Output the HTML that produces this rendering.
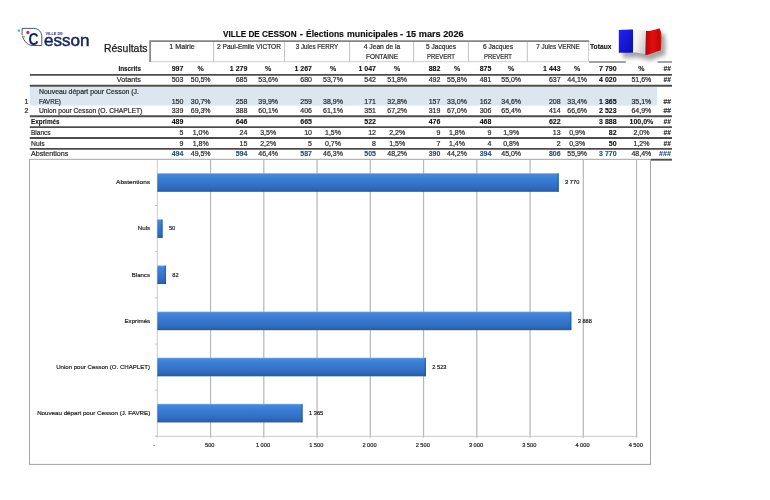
<!DOCTYPE html>
<html lang="fr"><head><meta charset="utf-8"><title>VILLE DE CESSON - Élections municipales - 15 mars 2026</title>
<style>
html,body{margin:0;padding:0;background:#fff;}
body{width:770px;height:500px;position:relative;overflow:hidden;font-family:"Liberation Sans",sans-serif;color:#2e2e2e;}
.t{position:absolute;white-space:nowrap;font-size:7px;line-height:10px;height:10px;-webkit-text-stroke:0.22px currentColor;}
.b{font-weight:bold;color:#0c0c0c;-webkit-text-stroke-width:0.08px;}
.bl{color:#1f497d;}
.cl{color:#1a1a1a;-webkit-text-stroke:0.18px #1a1a1a;}
</style></head><body>

<div class="t b" style="left:223.40px;top:27.00px;width:200px;text-align:left;font-size:9.5px;line-height:14px;height:14px;transform:scaleX(0.8607);transform-origin:left center;-webkit-text-stroke-width:0.15px;">VILLE DE CESSON</div>
<div class="t b" style="left:299.80px;top:27.00px;width:200px;text-align:left;font-size:9.5px;line-height:14px;height:14px;-webkit-text-stroke-width:0.15px;">-</div>
<div class="t b" style="left:305.60px;top:27.00px;width:200px;text-align:left;font-size:9.5px;line-height:14px;height:14px;transform:scaleX(0.8950);transform-origin:left center;-webkit-text-stroke-width:0.15px;">Élections</div>
<div class="t b" style="left:346.60px;top:27.00px;width:200px;text-align:left;font-size:9.5px;line-height:14px;height:14px;transform:scaleX(0.9252);transform-origin:left center;-webkit-text-stroke-width:0.15px;">municipales</div>
<div class="t b" style="left:400.00px;top:27.00px;width:200px;text-align:left;font-size:9.5px;line-height:14px;height:14px;-webkit-text-stroke-width:0.15px;">-</div>
<div class="t b" style="left:405.80px;top:27.00px;width:200px;text-align:left;font-size:9.5px;line-height:14px;height:14px;transform:scaleX(0.9650);transform-origin:left center;-webkit-text-stroke-width:0.15px;">15 mars 2026</div>
<div class="t" style="left:104.40px;top:40.60px;width:200px;text-align:left;font-size:10.4px;line-height:16px;height:16px;transform:scaleX(1.0057);transform-origin:left center;color:#1a1a1a;-webkit-text-stroke-width:0.25px;">Résultats</div>
<svg style="position:absolute;left:0;top:0;" width="770" height="500" viewBox="0 0 770 500">
<defs><linearGradient id="bg" x1="0" x2="0" y1="0" y2="1"><stop offset="0" stop-color="#78aeea"/><stop offset="0.07" stop-color="#4589dc"/><stop offset="0.3" stop-color="#3a7ed4"/><stop offset="0.78" stop-color="#2f6cc0"/><stop offset="0.93" stop-color="#2a61ae"/><stop offset="1" stop-color="#26579a"/></linearGradient></defs>
<rect x="29.8" y="86.8" width="627.4" height="18.8" fill="#dce6f1"/>
<path d="M150.1 61.9 V41.1 H589.2" fill="none" stroke="#858585" stroke-width="1.7"/>
<path d="M150.9 61.7 H588.6 V41.9" fill="none" stroke="#cfcfcf" stroke-width="1"/>
<path d="M213.6 42 V61.7" stroke="#c6c6c6" stroke-width="1.1"/>
<path d="M284.5 42 V61.7" stroke="#c6c6c6" stroke-width="1.1"/>
<path d="M349.6 42 V61.7" stroke="#c6c6c6" stroke-width="1.1"/>
<path d="M413.6 42 V61.7" stroke="#c6c6c6" stroke-width="1.1"/>
<path d="M468.4 42 V61.7" stroke="#c6c6c6" stroke-width="1.1"/>
<path d="M527.3 42 V61.7" stroke="#c6c6c6" stroke-width="1.1"/>
<path d="M589 62 H625.8 M657.6 62 H672" stroke="#858585" stroke-width="1.7"/>
<path d="M29.8 74.9 H672" stroke="#4c4c4c" stroke-width="1.9"/>
<path d="M29.8 85.8 H672" stroke="#4c4c4c" stroke-width="1.9"/>
<path d="M29.8 116.3 H672" stroke="#4c4c4c" stroke-width="1.9"/>
<path d="M29.8 127.1 H672" stroke="#4c4c4c" stroke-width="1.9"/>
<path d="M29.8 138.0 H672" stroke="#4c4c4c" stroke-width="1.9"/>
<path d="M29.8 148.9 H672" stroke="#4c4c4c" stroke-width="1.9"/>
<path d="M651 159.7 H672" stroke="#4c4c4c" stroke-width="1.9"/>
<rect x="29.5" y="159.3" width="621" height="305.1" fill="none" stroke="#a4a4a4" stroke-width="1"/>
<path d="M210.55 159.8 V437.8" stroke="#b8b8b8" stroke-width="1.25"/>
<path d="M263.80 159.8 V437.8" stroke="#b8b8b8" stroke-width="1.25"/>
<path d="M317.05 159.8 V437.8" stroke="#b8b8b8" stroke-width="1.25"/>
<path d="M370.30 159.8 V437.8" stroke="#b8b8b8" stroke-width="1.25"/>
<path d="M423.55 159.8 V437.8" stroke="#b8b8b8" stroke-width="1.25"/>
<path d="M476.80 159.8 V437.8" stroke="#b8b8b8" stroke-width="1.25"/>
<path d="M530.05 159.8 V437.8" stroke="#b8b8b8" stroke-width="1.25"/>
<path d="M583.30 159.8 V437.8" stroke="#b8b8b8" stroke-width="1.25"/>
<path d="M636.55 159.8 V437.8" stroke="#b8b8b8" stroke-width="1.25"/>
<path d="M157.30 159.8 V437.8 M155 436.3 H637.2" stroke="#cacaca" stroke-width="1" fill="none"/>
<path d="M155 205.5 H157.3 M155 251.6 H157.3 M155 297.8 H157.3 M155 344.0 H157.3 M155 390.2 H157.3 M155 436.3 H157.3" stroke="#c4c4c4" stroke-width="1"/>
<rect x="157.3" y="173.20" width="401.50" height="18.6" fill="url(#bg)"/>
<rect x="557.41" y="173.20" width="1.4" height="18.6" fill="#1d4a8c" opacity="0.45"/>
<rect x="157.3" y="219.33" width="5.33" height="18.6" fill="url(#bg)"/>
<rect x="161.22" y="219.33" width="1.4" height="18.6" fill="#1d4a8c" opacity="0.45"/>
<rect x="157.3" y="265.46" width="8.73" height="18.6" fill="url(#bg)"/>
<rect x="164.63" y="265.46" width="1.4" height="18.6" fill="#1d4a8c" opacity="0.45"/>
<rect x="157.3" y="311.59" width="414.07" height="18.6" fill="url(#bg)"/>
<rect x="569.97" y="311.59" width="1.4" height="18.6" fill="#1d4a8c" opacity="0.45"/>
<rect x="157.3" y="357.72" width="268.70" height="18.6" fill="url(#bg)"/>
<rect x="424.60" y="357.72" width="1.4" height="18.6" fill="#1d4a8c" opacity="0.45"/>
<rect x="157.3" y="403.85" width="145.37" height="18.6" fill="url(#bg)"/>
<rect x="301.27" y="403.85" width="1.4" height="18.6" fill="#1d4a8c" opacity="0.45"/>
</svg>
<div class="t" style="left:81.75px;top:41.90px;width:200px;text-align:center;transform:scaleX(1.0202);transform-origin:center center;">1 Mairie</div>
<div class="t" style="left:149.00px;top:41.90px;width:200px;text-align:center;transform:scaleX(0.9402);transform-origin:center center;">2 Paul-Emile VICTOR</div>
<div class="t" style="left:217.00px;top:41.90px;width:200px;text-align:center;transform:scaleX(0.8861);transform-origin:center center;">3 Jules FERRY</div>
<div class="t" style="left:281.50px;top:41.90px;width:200px;text-align:center;transform:scaleX(0.9596);transform-origin:center center;">4 Jean de la</div>
<div class="t" style="left:281.50px;top:51.90px;width:200px;text-align:center;transform:scaleX(0.9212);transform-origin:center center;">FONTAINE</div>
<div class="t" style="left:340.90px;top:41.90px;width:200px;text-align:center;transform:scaleX(0.9401);transform-origin:center center;">5 Jacques</div>
<div class="t" style="left:340.90px;top:51.90px;width:200px;text-align:center;transform:scaleX(0.8469);transform-origin:center center;">PREVERT</div>
<div class="t" style="left:397.75px;top:41.90px;width:200px;text-align:center;transform:scaleX(0.9401);transform-origin:center center;">6 Jacques</div>
<div class="t" style="left:397.75px;top:51.90px;width:200px;text-align:center;transform:scaleX(0.8469);transform-origin:center center;">PREVERT</div>
<div class="t" style="left:458.10px;top:41.90px;width:200px;text-align:center;transform:scaleX(0.9038);transform-origin:center center;">7 Jules VERNE</div>
<div class="t b" style="left:590.40px;top:41.90px;width:200px;text-align:left;transform:scaleX(0.9588);transform-origin:left center;">Totaux</div>
<div class="t b" style="left:-16.60px;top:64.30px;width:200px;text-align:right;">997</div>
<div class="t b" style="left:47.40px;top:64.30px;width:200px;text-align:right;">1 279</div>
<div class="t b" style="left:112.00px;top:64.30px;width:200px;text-align:right;">1 267</div>
<div class="t b" style="left:176.00px;top:64.30px;width:200px;text-align:right;">1 047</div>
<div class="t b" style="left:240.40px;top:64.30px;width:200px;text-align:right;">882</div>
<div class="t b" style="left:291.40px;top:64.30px;width:200px;text-align:right;">875</div>
<div class="t b" style="left:360.60px;top:64.30px;width:200px;text-align:right;">1 443</div>
<div class="t b" style="left:416.60px;top:64.30px;width:200px;text-align:right;">7 790</div>
<div class="t b" style="left:100.70px;top:64.30px;width:200px;text-align:center;">%</div>
<div class="t b" style="left:168.20px;top:64.30px;width:200px;text-align:center;">%</div>
<div class="t b" style="left:233.00px;top:64.30px;width:200px;text-align:center;">%</div>
<div class="t b" style="left:297.20px;top:64.30px;width:200px;text-align:center;">%</div>
<div class="t b" style="left:357.00px;top:64.30px;width:200px;text-align:center;">%</div>
<div class="t b" style="left:411.20px;top:64.30px;width:200px;text-align:center;">%</div>
<div class="t b" style="left:477.20px;top:64.30px;width:200px;text-align:center;">%</div>
<div class="t b" style="left:541.40px;top:64.30px;width:200px;text-align:center;">%</div>
<div class="t b" style="left:470.50px;top:64.30px;width:200px;text-align:right;transform:scaleX(0.9504);transform-origin:right center;">##</div>
<div class="t" style="left:-16.60px;top:75.00px;width:200px;text-align:right;">503</div>
<div class="t" style="left:47.40px;top:75.00px;width:200px;text-align:right;">685</div>
<div class="t" style="left:112.00px;top:75.00px;width:200px;text-align:right;">680</div>
<div class="t" style="left:176.00px;top:75.00px;width:200px;text-align:right;">542</div>
<div class="t" style="left:240.40px;top:75.00px;width:200px;text-align:right;">492</div>
<div class="t" style="left:291.40px;top:75.00px;width:200px;text-align:right;">481</div>
<div class="t" style="left:360.60px;top:75.00px;width:200px;text-align:right;">637</div>
<div class="t b" style="left:416.60px;top:75.00px;width:200px;text-align:right;">4 020</div>
<div class="t" style="left:100.70px;top:75.00px;width:200px;text-align:center;">50,5%</div>
<div class="t" style="left:168.20px;top:75.00px;width:200px;text-align:center;">53,6%</div>
<div class="t" style="left:233.00px;top:75.00px;width:200px;text-align:center;">53,7%</div>
<div class="t" style="left:297.20px;top:75.00px;width:200px;text-align:center;">51,8%</div>
<div class="t" style="left:357.00px;top:75.00px;width:200px;text-align:center;">55,8%</div>
<div class="t" style="left:411.20px;top:75.00px;width:200px;text-align:center;">55,0%</div>
<div class="t" style="left:477.20px;top:75.00px;width:200px;text-align:center;">44,1%</div>
<div class="t" style="left:541.40px;top:75.00px;width:200px;text-align:center;">51,6%</div>
<div class="t b" style="left:470.50px;top:75.00px;width:200px;text-align:right;transform:scaleX(0.9504);transform-origin:right center;">##</div>
<div class="t" style="left:-16.60px;top:96.60px;width:200px;text-align:right;">150</div>
<div class="t" style="left:47.40px;top:96.60px;width:200px;text-align:right;">258</div>
<div class="t" style="left:112.00px;top:96.60px;width:200px;text-align:right;">259</div>
<div class="t" style="left:176.00px;top:96.60px;width:200px;text-align:right;">171</div>
<div class="t" style="left:240.40px;top:96.60px;width:200px;text-align:right;">157</div>
<div class="t" style="left:291.40px;top:96.60px;width:200px;text-align:right;">162</div>
<div class="t" style="left:360.60px;top:96.60px;width:200px;text-align:right;">208</div>
<div class="t b" style="left:416.60px;top:96.60px;width:200px;text-align:right;">1 365</div>
<div class="t" style="left:100.70px;top:96.60px;width:200px;text-align:center;">30,7%</div>
<div class="t" style="left:168.20px;top:96.60px;width:200px;text-align:center;">39,9%</div>
<div class="t" style="left:233.00px;top:96.60px;width:200px;text-align:center;">38,9%</div>
<div class="t" style="left:297.20px;top:96.60px;width:200px;text-align:center;">32,8%</div>
<div class="t" style="left:357.00px;top:96.60px;width:200px;text-align:center;">33,0%</div>
<div class="t" style="left:411.20px;top:96.60px;width:200px;text-align:center;">34,6%</div>
<div class="t" style="left:477.20px;top:96.60px;width:200px;text-align:center;">33,4%</div>
<div class="t" style="left:541.40px;top:96.60px;width:200px;text-align:center;">35,1%</div>
<div class="t" style="left:470.50px;top:96.60px;width:200px;text-align:right;transform:scaleX(0.9504);transform-origin:right center;">##</div>
<div class="t" style="left:-16.60px;top:106.30px;width:200px;text-align:right;">339</div>
<div class="t" style="left:47.40px;top:106.30px;width:200px;text-align:right;">388</div>
<div class="t" style="left:112.00px;top:106.30px;width:200px;text-align:right;">406</div>
<div class="t" style="left:176.00px;top:106.30px;width:200px;text-align:right;">351</div>
<div class="t" style="left:240.40px;top:106.30px;width:200px;text-align:right;">319</div>
<div class="t" style="left:291.40px;top:106.30px;width:200px;text-align:right;">306</div>
<div class="t" style="left:360.60px;top:106.30px;width:200px;text-align:right;">414</div>
<div class="t b" style="left:416.60px;top:106.30px;width:200px;text-align:right;">2 523</div>
<div class="t" style="left:100.70px;top:106.30px;width:200px;text-align:center;">69,3%</div>
<div class="t" style="left:168.20px;top:106.30px;width:200px;text-align:center;">60,1%</div>
<div class="t" style="left:233.00px;top:106.30px;width:200px;text-align:center;">61,1%</div>
<div class="t" style="left:297.20px;top:106.30px;width:200px;text-align:center;">67,2%</div>
<div class="t" style="left:357.00px;top:106.30px;width:200px;text-align:center;">67,0%</div>
<div class="t" style="left:411.20px;top:106.30px;width:200px;text-align:center;">65,4%</div>
<div class="t" style="left:477.20px;top:106.30px;width:200px;text-align:center;">66,6%</div>
<div class="t" style="left:541.40px;top:106.30px;width:200px;text-align:center;">64,9%</div>
<div class="t" style="left:470.50px;top:106.30px;width:200px;text-align:right;transform:scaleX(0.9504);transform-origin:right center;">##</div>
<div class="t b" style="left:-16.60px;top:116.90px;width:200px;text-align:right;">489</div>
<div class="t b" style="left:47.40px;top:116.90px;width:200px;text-align:right;">646</div>
<div class="t b" style="left:112.00px;top:116.90px;width:200px;text-align:right;">665</div>
<div class="t b" style="left:176.00px;top:116.90px;width:200px;text-align:right;">522</div>
<div class="t b" style="left:240.40px;top:116.90px;width:200px;text-align:right;">476</div>
<div class="t b" style="left:291.40px;top:116.90px;width:200px;text-align:right;">468</div>
<div class="t b" style="left:360.60px;top:116.90px;width:200px;text-align:right;">622</div>
<div class="t b" style="left:416.60px;top:116.90px;width:200px;text-align:right;">3 888</div>
<div class="t b" style="left:541.40px;top:116.90px;width:200px;text-align:center;">100,0%</div>
<div class="t b" style="left:470.50px;top:116.90px;width:200px;text-align:right;transform:scaleX(0.9504);transform-origin:right center;">##</div>
<div class="t" style="left:-16.60px;top:127.60px;width:200px;text-align:right;">5</div>
<div class="t" style="left:47.40px;top:127.60px;width:200px;text-align:right;">24</div>
<div class="t" style="left:112.00px;top:127.60px;width:200px;text-align:right;">10</div>
<div class="t" style="left:176.00px;top:127.60px;width:200px;text-align:right;">12</div>
<div class="t" style="left:240.40px;top:127.60px;width:200px;text-align:right;">9</div>
<div class="t" style="left:291.40px;top:127.60px;width:200px;text-align:right;">9</div>
<div class="t" style="left:360.60px;top:127.60px;width:200px;text-align:right;">13</div>
<div class="t b" style="left:416.60px;top:127.60px;width:200px;text-align:right;">82</div>
<div class="t" style="left:100.70px;top:127.60px;width:200px;text-align:center;">1,0%</div>
<div class="t" style="left:168.20px;top:127.60px;width:200px;text-align:center;">3,5%</div>
<div class="t" style="left:233.00px;top:127.60px;width:200px;text-align:center;">1,5%</div>
<div class="t" style="left:297.20px;top:127.60px;width:200px;text-align:center;">2,2%</div>
<div class="t" style="left:357.00px;top:127.60px;width:200px;text-align:center;">1,8%</div>
<div class="t" style="left:411.20px;top:127.60px;width:200px;text-align:center;">1,9%</div>
<div class="t" style="left:477.20px;top:127.60px;width:200px;text-align:center;">0,9%</div>
<div class="t" style="left:541.40px;top:127.60px;width:200px;text-align:center;">2,0%</div>
<div class="t b" style="left:470.50px;top:127.60px;width:200px;text-align:right;transform:scaleX(0.9504);transform-origin:right center;">##</div>
<div class="t" style="left:-16.60px;top:138.50px;width:200px;text-align:right;">9</div>
<div class="t" style="left:47.40px;top:138.50px;width:200px;text-align:right;">15</div>
<div class="t" style="left:112.00px;top:138.50px;width:200px;text-align:right;">5</div>
<div class="t" style="left:176.00px;top:138.50px;width:200px;text-align:right;">8</div>
<div class="t" style="left:240.40px;top:138.50px;width:200px;text-align:right;">7</div>
<div class="t" style="left:291.40px;top:138.50px;width:200px;text-align:right;">4</div>
<div class="t" style="left:360.60px;top:138.50px;width:200px;text-align:right;">2</div>
<div class="t b" style="left:416.60px;top:138.50px;width:200px;text-align:right;">50</div>
<div class="t" style="left:100.70px;top:138.50px;width:200px;text-align:center;">1,8%</div>
<div class="t" style="left:168.20px;top:138.50px;width:200px;text-align:center;">2,2%</div>
<div class="t" style="left:233.00px;top:138.50px;width:200px;text-align:center;">0,7%</div>
<div class="t" style="left:297.20px;top:138.50px;width:200px;text-align:center;">1,5%</div>
<div class="t" style="left:357.00px;top:138.50px;width:200px;text-align:center;">1,4%</div>
<div class="t" style="left:411.20px;top:138.50px;width:200px;text-align:center;">0,8%</div>
<div class="t" style="left:477.20px;top:138.50px;width:200px;text-align:center;">0,3%</div>
<div class="t" style="left:541.40px;top:138.50px;width:200px;text-align:center;">1,2%</div>
<div class="t b" style="left:470.50px;top:138.50px;width:200px;text-align:right;transform:scaleX(0.9504);transform-origin:right center;">##</div>
<div class="t b bl" style="left:-16.60px;top:149.30px;width:200px;text-align:right;">494</div>
<div class="t b bl" style="left:47.40px;top:149.30px;width:200px;text-align:right;">594</div>
<div class="t b bl" style="left:112.00px;top:149.30px;width:200px;text-align:right;">587</div>
<div class="t b bl" style="left:176.00px;top:149.30px;width:200px;text-align:right;">505</div>
<div class="t b bl" style="left:240.40px;top:149.30px;width:200px;text-align:right;">390</div>
<div class="t b bl" style="left:291.40px;top:149.30px;width:200px;text-align:right;">394</div>
<div class="t b bl" style="left:360.60px;top:149.30px;width:200px;text-align:right;">806</div>
<div class="t b bl" style="left:416.60px;top:149.30px;width:200px;text-align:right;">3 770</div>
<div class="t" style="left:100.70px;top:149.30px;width:200px;text-align:center;">49,5%</div>
<div class="t" style="left:168.20px;top:149.30px;width:200px;text-align:center;">46,4%</div>
<div class="t" style="left:233.00px;top:149.30px;width:200px;text-align:center;">46,3%</div>
<div class="t" style="left:297.20px;top:149.30px;width:200px;text-align:center;">48,2%</div>
<div class="t" style="left:357.00px;top:149.30px;width:200px;text-align:center;">44,2%</div>
<div class="t" style="left:411.20px;top:149.30px;width:200px;text-align:center;">45,0%</div>
<div class="t" style="left:477.20px;top:149.30px;width:200px;text-align:center;">55,9%</div>
<div class="t" style="left:541.40px;top:149.30px;width:200px;text-align:center;">48,4%</div>
<div class="t b bl" style="left:470.50px;top:149.30px;width:200px;text-align:right;transform:scaleX(1.0275);transform-origin:right center;">###</div>
<div class="t b" style="left:-59.00px;top:64.30px;width:200px;text-align:right;transform:scaleX(0.9076);transform-origin:right center;">Inscrits</div>
<div class="t" style="left:-59.00px;top:75.00px;width:200px;text-align:right;transform:scaleX(1.0363);transform-origin:right center;">Votants</div>
<div class="t" style="left:39.00px;top:86.80px;width:200px;text-align:left;transform:scaleX(0.9885);transform-origin:left center;">Nouveau départ pour Cesson (J.</div>
<div class="t" style="left:39.00px;top:96.60px;width:200px;text-align:left;transform:scaleX(0.8804);transform-origin:left center;">FAVRE)</div>
<div class="t" style="left:24.60px;top:96.60px;width:200px;text-align:left;">1</div>
<div class="t" style="left:24.60px;top:106.30px;width:200px;text-align:left;">2</div>
<div class="t" style="left:39.00px;top:106.30px;width:200px;text-align:left;transform:scaleX(0.9542);transform-origin:left center;">Union pour Cesson (O. CHAPLET)</div>
<div class="t b" style="left:31.30px;top:116.90px;width:200px;text-align:left;transform:scaleX(0.9074);transform-origin:left center;">Exprimés</div>
<div class="t" style="left:31.30px;top:127.60px;width:200px;text-align:left;transform:scaleX(0.9329);transform-origin:left center;">Blancs</div>
<div class="t" style="left:31.30px;top:138.50px;width:200px;text-align:left;transform:scaleX(0.9712);transform-origin:left center;">Nuls</div>
<div class="t" style="left:31.30px;top:149.30px;width:200px;text-align:left;transform:scaleX(1.0224);transform-origin:left center;">Abstentions</div>
<div class="t cl" style="left:-49.80px;top:178.00px;width:200px;text-align:right;font-size:6.2px;line-height:8px;height:8px;transform:scaleX(1.0494);transform-origin:right center;">Abstentions</div>
<div class="t cl" style="left:565.11px;top:178.00px;width:200px;text-align:left;font-size:5.7px;line-height:8px;height:8px;">3 770</div>
<div class="t cl" style="left:-49.80px;top:224.00px;width:200px;text-align:right;font-size:6.2px;line-height:8px;height:8px;">Nuls</div>
<div class="t cl" style="left:168.93px;top:224.00px;width:200px;text-align:left;font-size:5.7px;line-height:8px;height:8px;">50</div>
<div class="t cl" style="left:-49.80px;top:271.00px;width:200px;text-align:right;font-size:6.2px;line-height:8px;height:8px;transform:scaleX(0.9834);transform-origin:right center;">Blancs</div>
<div class="t cl" style="left:172.33px;top:271.00px;width:200px;text-align:left;font-size:5.7px;line-height:8px;height:8px;">82</div>
<div class="t cl" style="left:-49.80px;top:317.00px;width:200px;text-align:right;font-size:6.2px;line-height:8px;height:8px;">Exprimés</div>
<div class="t cl" style="left:577.67px;top:317.00px;width:200px;text-align:left;font-size:5.7px;line-height:8px;height:8px;">3 888</div>
<div class="t cl" style="left:-49.80px;top:363.00px;width:200px;text-align:right;font-size:6.2px;line-height:8px;height:8px;transform:scaleX(0.9813);transform-origin:right center;">Union pour Cesson (O. CHAPLET)</div>
<div class="t cl" style="left:432.30px;top:363.00px;width:200px;text-align:left;font-size:5.7px;line-height:8px;height:8px;">2 523</div>
<div class="t cl" style="left:-49.80px;top:409.00px;width:200px;text-align:right;font-size:6.2px;line-height:8px;height:8px;">Nouveau départ pour Cesson (J. FAVRE)</div>
<div class="t cl" style="left:308.97px;top:409.00px;width:200px;text-align:left;font-size:5.7px;line-height:8px;height:8px;">1 365</div>
<div class="t cl" style="left:54.30px;top:440.80px;width:200px;text-align:center;font-size:5.7px;line-height:8px;height:8px;">-</div>
<div class="t cl" style="left:109.75px;top:440.80px;width:200px;text-align:center;font-size:5.7px;line-height:8px;height:8px;">500</div>
<div class="t cl" style="left:163.00px;top:440.80px;width:200px;text-align:center;font-size:5.7px;line-height:8px;height:8px;">1 000</div>
<div class="t cl" style="left:216.25px;top:440.80px;width:200px;text-align:center;font-size:5.7px;line-height:8px;height:8px;">1 500</div>
<div class="t cl" style="left:269.50px;top:440.80px;width:200px;text-align:center;font-size:5.7px;line-height:8px;height:8px;">2 000</div>
<div class="t cl" style="left:322.75px;top:440.80px;width:200px;text-align:center;font-size:5.7px;line-height:8px;height:8px;">2 500</div>
<div class="t cl" style="left:376.00px;top:440.80px;width:200px;text-align:center;font-size:5.7px;line-height:8px;height:8px;">3 000</div>
<div class="t cl" style="left:429.25px;top:440.80px;width:200px;text-align:center;font-size:5.7px;line-height:8px;height:8px;">3 500</div>
<div class="t cl" style="left:482.50px;top:440.80px;width:200px;text-align:center;font-size:5.7px;line-height:8px;height:8px;">4 000</div>
<div class="t cl" style="left:535.75px;top:440.80px;width:200px;text-align:center;font-size:5.7px;line-height:8px;height:8px;">4 500</div>
<svg style="position:absolute;left:0;top:20px;" width="100" height="40" viewBox="0 20 100 40">
<path d="M22.1 28.4 H33.6 C39.2 28.6 41.8 32.4 41.8 37 V45.5 H32 C27 45.2 22.4 39.6 22.1 33.4 Z" fill="none" stroke="#2a3578" stroke-width="0.85"/>
<rect x="17.7" y="29.5" width="2.4" height="2.2" rx="0.8" fill="#2bb5c4"/>
<circle cx="27.9" cy="32.4" r="1.6" fill="#d81b6a"/>
<circle cx="21.6" cy="33.7" r="0.9" fill="#c9b44a"/>
<circle cx="24" cy="36.8" r="1.1" fill="#f0a030"/>
<circle cx="22.6" cy="35.4" r="0.6" fill="#e9cf5a"/>
<text transform="translate(28.6 45.4) scale(0.88 1)" x="0" y="0" font-family="Liberation Sans, sans-serif" font-weight="bold" font-size="15.8" fill="#14235f">C</text>
<text x="44.0" y="45.5" font-family="Liberation Sans, sans-serif" font-size="15.8" fill="#14235f" stroke="#14235f" stroke-width="0.45" textLength="45.6" lengthAdjust="spacingAndGlyphs">esson</text>
<text x="45.4" y="34.8" font-family="Liberation Sans, sans-serif" font-weight="bold" font-size="3.4" fill="#2a3578" textLength="17.4" lengthAdjust="spacingAndGlyphs">VILLE DE</text>
</svg>

<svg style="position:absolute;left:610px;top:22px;" width="64" height="44" viewBox="610 22 64 44">
<defs>
<filter id="sh" x="-30%" y="-30%" width="160%" height="160%"><feGaussianBlur stdDeviation="2"/></filter>
<linearGradient id="fb" x1="0" x2="1" y1="0" y2="1"><stop offset="0" stop-color="#2424ee"/><stop offset="0.5" stop-color="#1717d6"/><stop offset="1" stop-color="#0f0fa8"/></linearGradient>
<linearGradient id="fw" x1="0" x2="1" y1="0" y2="0.6"><stop offset="0" stop-color="#ffffff"/><stop offset="0.45" stop-color="#f2f2f2"/><stop offset="1" stop-color="#cdcdcd"/></linearGradient>
<linearGradient id="fr" x1="0" x2="1" y1="0" y2="0"><stop offset="0" stop-color="#a80606"/><stop offset="0.18" stop-color="#c40a0a"/><stop offset="0.42" stop-color="#e40e0e"/><stop offset="0.66" stop-color="#d60c0c"/><stop offset="0.86" stop-color="#bc0909"/><stop offset="1" stop-color="#de1616"/></linearGradient>
</defs>
<path d="M623 34.5 L637 34.5 L650 36 L664 33 C666 40.5 665.8 48.5 665 55.5 C658.5 56.6 654.5 59.6 649.5 60.4 C644.5 59.6 640.5 58 637.5 57.6 L623 58 Z" fill="#303030" opacity="0.44" filter="url(#sh)"/>
<path d="M618.8 29.9 C624 29.7 628 29.7 633.1 29.5 L633.1 52.5 C628 52.7 624 52.8 618.8 52.8 Z" fill="url(#fb)"/>
<path d="M633.1 29.5 C637 29.2 641 29.6 646 31 L645.4 54.2 C641 53.2 637 52.5 633.1 52.5 Z" fill="url(#fw)"/>
<path d="M646 31 C650.5 31.4 655 29.6 659.4 28.3 C661.4 31.5 661.6 36 661.3 40 C661.1 44 661.2 47.5 660.6 50.6 C655.6 51.4 650.4 54.8 645.4 55.3 Z" fill="url(#fr)"/>
</svg>

</body></html>
